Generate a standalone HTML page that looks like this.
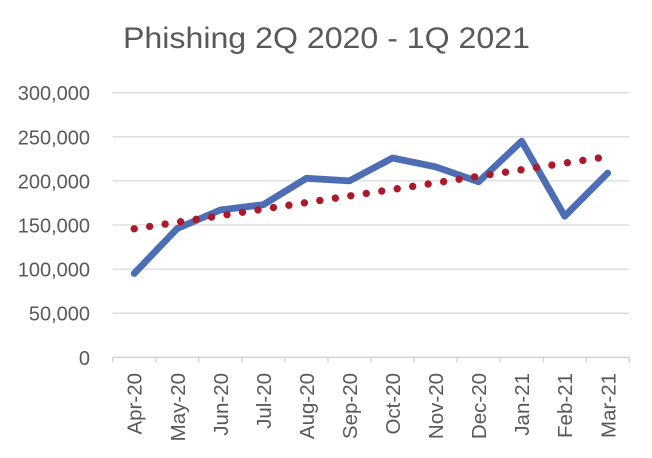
<!DOCTYPE html>
<html>
<head>
<meta charset="utf-8">
<style>
  html, body { margin: 0; padding: 0; background: #ffffff; }
  body { width: 652px; height: 458px; overflow: hidden; }
  svg { display: block; }
  text { font-family: "Liberation Sans", Arial, sans-serif; fill: #595959; }
</style>
</head>
<body>
<svg width="652" height="458" viewBox="0 0 652 458" xmlns="http://www.w3.org/2000/svg">
  <rect x="0" y="0" width="652" height="458" fill="#ffffff"/>

  <!-- Title -->
  <text x="326.5" y="48" font-size="30" text-anchor="middle" textLength="407" lengthAdjust="spacingAndGlyphs">Phishing 2Q 2020 - 1Q 2021</text>

  <!-- Gridlines -->
  <g stroke="#d9d9d9" stroke-width="1.3">
    <line x1="112.7" y1="92.7" x2="629.3" y2="92.7"/>
    <line x1="112.7" y1="136.8" x2="629.3" y2="136.8"/>
    <line x1="112.7" y1="180.9" x2="629.3" y2="180.9"/>
    <line x1="112.7" y1="225.0" x2="629.3" y2="225.0"/>
    <line x1="112.7" y1="269.1" x2="629.3" y2="269.1"/>
    <line x1="112.7" y1="313.2" x2="629.3" y2="313.2"/>
  </g>
  <!-- X axis -->
  <g stroke="#d0d0d0" stroke-width="1.3">
    <line x1="112.7" y1="357.3" x2="629.3" y2="357.3"/>
    <line x1="112.7" y1="357.3" x2="112.7" y2="362.5"/>
    <line x1="155.75" y1="357.3" x2="155.75" y2="362.5"/>
    <line x1="198.8" y1="357.3" x2="198.8" y2="362.5"/>
    <line x1="241.85" y1="357.3" x2="241.85" y2="362.5"/>
    <line x1="284.9" y1="357.3" x2="284.9" y2="362.5"/>
    <line x1="327.95" y1="357.3" x2="327.95" y2="362.5"/>
    <line x1="371.0" y1="357.3" x2="371.0" y2="362.5"/>
    <line x1="414.05" y1="357.3" x2="414.05" y2="362.5"/>
    <line x1="457.1" y1="357.3" x2="457.1" y2="362.5"/>
    <line x1="500.15" y1="357.3" x2="500.15" y2="362.5"/>
    <line x1="543.2" y1="357.3" x2="543.2" y2="362.5"/>
    <line x1="586.25" y1="357.3" x2="586.25" y2="362.5"/>
    <line x1="629.3" y1="357.3" x2="629.3" y2="362.5"/>
  </g>

  <!-- Y labels -->
  <g font-size="20" text-anchor="end">
    <text x="90" y="100.2">300,000</text>
    <text x="90" y="144.3">250,000</text>
    <text x="90" y="188.4">200,000</text>
    <text x="90" y="232.5">150,000</text>
    <text x="90" y="276.6">100,000</text>
    <text x="90" y="320.7">50,000</text>
    <text x="90" y="364.8">0</text>
  </g>

  <!-- X labels (rotated) -->
  <g font-size="20.5" text-anchor="end">
    <text transform="translate(141.7,373) rotate(-90)">Apr-20</text>
    <text transform="translate(184.75,373) rotate(-90)">May-20</text>
    <text transform="translate(227.8,373) rotate(-90)">Jun-20</text>
    <text transform="translate(270.85,373) rotate(-90)">Jul-20</text>
    <text transform="translate(313.9,373) rotate(-90)">Aug-20</text>
    <text transform="translate(356.95,373) rotate(-90)">Sep-20</text>
    <text transform="translate(400.0,373) rotate(-90)">Oct-20</text>
    <text transform="translate(443.05,373) rotate(-90)">Nov-20</text>
    <text transform="translate(486.1,373) rotate(-90)">Dec-20</text>
    <text transform="translate(529.15,373) rotate(-90)">Jan-21</text>
    <text transform="translate(572.2,373) rotate(-90)">Feb-21</text>
    <text transform="translate(615.25,373) rotate(-90)">Mar-21</text>
  </g>

  <!-- Data line -->
  <polyline fill="none" stroke="#4d6db5" stroke-width="6.8" stroke-linejoin="round" stroke-linecap="round"
    points="134.2,273.5 177.25,228.5 220.3,210.0 263.35,204.7 306.4,178.3 349.45,180.9 392.5,158.0 435.55,166.8 478.6,181.8 521.65,141.2 564.7,216.2 607.75,173.0"/>

  <!-- Trend line (dotted) -->
  <line x1="134.2" y1="228.8" x2="607.75" y2="156.6" stroke="#ab1a2b" stroke-width="7.4" stroke-linecap="round" stroke-dasharray="0 15.65"/>
</svg>
</body>
</html>
